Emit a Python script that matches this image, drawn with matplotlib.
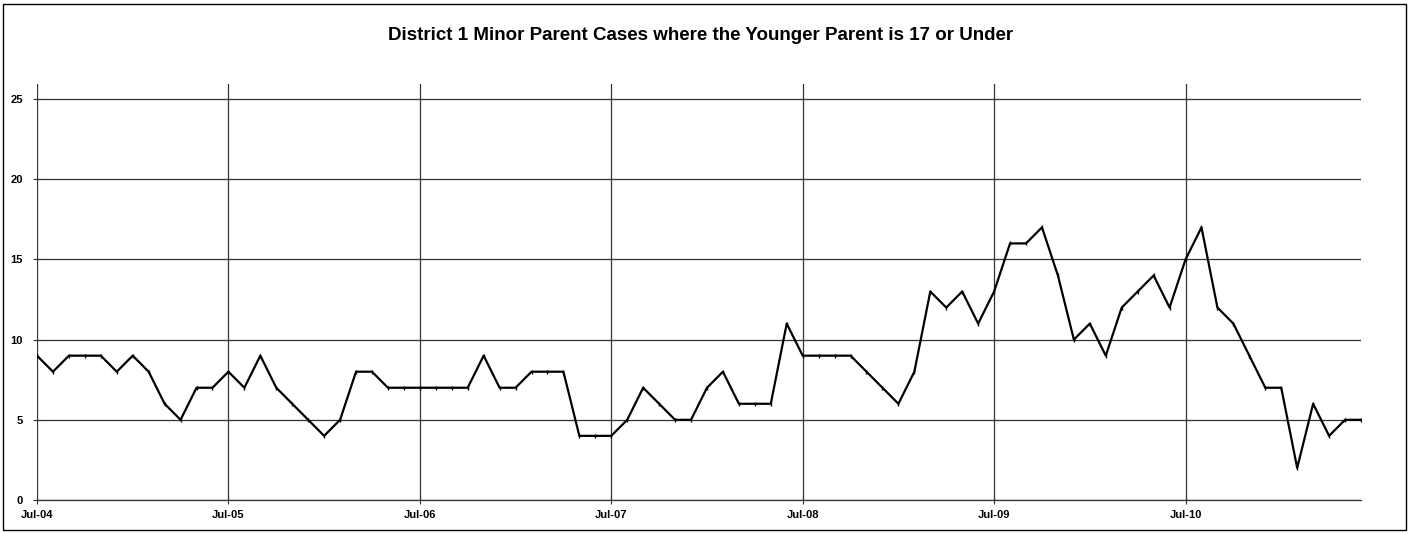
import matplotlib
matplotlib.use("Agg")
import matplotlib.pyplot as plt
from matplotlib.patches import Rectangle

plt.rcParams['font.family'] = ['Liberation Sans', 'DejaVu Sans']

# miesiące od Jul-04 do Jun-11
years = ["04", "05", "06", "07", "08", "09", "10"]
month_names = ["Jul", "Aug", "Sep", "Oct", "Nov", "Dec",
               "Jan", "Feb", "Mar", "Apr", "May", "Jun"]
months = []
for i, y in enumerate(years):
    for j, m in enumerate(month_names):
        yy = y if j < 6 else "%02d" % (int(y) + 1)
        months.append(m + "-" + yy)

cases = [9, 8, 9, 9, 9, 8, 9, 8, 6, 5, 7, 7,
         8, 7, 9, 7, 6, 5, 4, 5, 8, 8, 7, 7,
         7, 7, 7, 7, 9, 7, 7, 8, 8, 8, 4, 4,
         4, 5, 7, 6, 5, 5, 7, 8, 6, 6, 6, 11,
         9, 9, 9, 9, 8, 7, 6, 8, 13, 12, 13, 11,
         13, 16, 16, 17, 14, 10, 11, 9, 12, 13, 14, 12,
         15, 17, 12, 11, 9, 7, 7, 2, 6, 4, 5, 5]

tick_labels = ["Jul-04", "Jul-05", "Jul-06", "Jul-07", "Jul-08", "Jul-09", "Jul-10"]
y_ticks = [0, 5, 10, 15, 20, 25]

title = "District 1 Minor Parent Cases where the Younger Parent is 17 or Under"

fig = plt.figure(figsize=(14.09, 5.33), dpi=100)
ax = fig.add_axes([37 / 1409, 1 - 500 / 533, (1361 - 37) / 1409, (500 - 84) / 533])

x = list(range(len(cases)))
ax.plot(x, cases, color="black", linewidth=1.6, marker="|", markersize=3,
        markeredgewidth=1, zorder=3)

ax.set_xlim(0, len(cases) - 1)
ax.set_ylim(0, 25.94)

xt = [months.index(t) for t in tick_labels]
ax.set_xticks(xt)
ax.set_xticklabels(tick_labels, fontsize=8, fontweight="bold")
ax.set_yticks(y_ticks)
ax.set_yticklabels([str(v) for v in y_ticks], fontsize=8, fontweight="bold")
ax.tick_params(direction="inout", length=6, width=0.8, color="#333333")
ax.tick_params(axis="x", pad=4)
ax.tick_params(axis="y", pad=7)

for s in ax.spines.values():
    s.set_visible(False)
ax.grid(True, color="#333333", linewidth=0.9)
ax.set_axisbelow(True)
# linia zero na dole, żeby nie była przycięta
ax.axhline(0, color="#333333", linewidth=0.9, clip_on=False, zorder=1)

fig.text(0.497, 1 - 35 / 533, title, ha="center", va="center",
         fontsize=13.5, fontweight="bold")

# ramka wokół wykresu
fig.patches.append(Rectangle((3 / 1409, 3 / 533), 1403 / 1409, 526 / 533,
                             transform=fig.transFigure, fill=False,
                             edgecolor="black", linewidth=1))

plt.savefig("out.png", dpi=100)
